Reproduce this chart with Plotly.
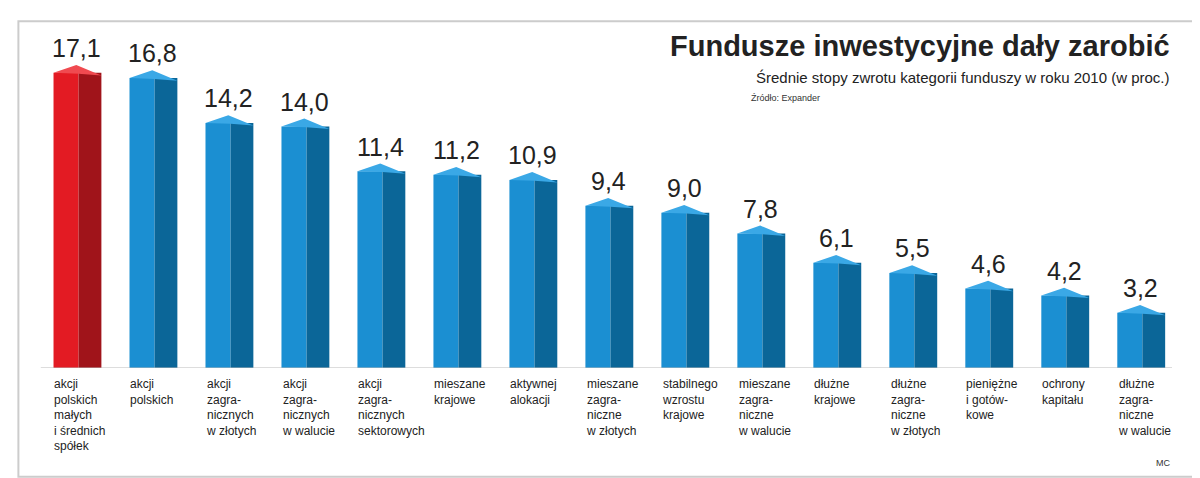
import plotly.graph_objects as go

# data
labels = ['akcji<br>polskich<br>małych<br>i średnich<br>spółek', 'akcji<br>polskich',
          'akcji<br>zagra-<br>nicznych<br>w złotych', 'akcji<br>zagra-<br>nicznych<br>w walucie',
          'akcji<br>zagra-<br>nicznych<br>sektorowych', 'mieszane<br>krajowe', 'aktywnej<br>alokacji',
          'mieszane<br>zagra-<br>niczne<br>w złotych', 'stabilnego<br>wzrostu<br>krajowe',
          'mieszane<br>zagra-<br>niczne<br>w walucie', 'dłużne<br>krajowe',
          'dłużne<br>zagra-<br>niczne<br>w złotych', 'pieniężne<br>i gotów-<br>kowe',
          'ochrony<br>kapitału', 'dłużne<br>zagra-<br>niczne<br>w walucie']
values = [17.1, 16.8, 14.2, 14.0, 11.4, 11.2, 10.9, 9.4, 9.0, 7.8, 6.1, 5.5, 4.6, 4.2, 3.2]
value_text = ['17,1', '16,8', '14,2', '14,0', '11,4', '11,2', '10,9', '9,4', '9,0', '7,8', '6,1', '5,5', '4,6', '4,2', '3,2']

xs = list(range(len(values)))
front = ['#e31b23' if i == 0 else '#1b8fd2' for i in xs]
side = ['#a0141a' if i == 0 else '#0b6698' for i in xs]
capc = ['#f04a50' if i == 0 else '#3aa8e6' for i in xs]

fig = go.Figure()
fig.add_trace(go.Bar(x=xs, y=values, width=0.33, offset=0, marker_color=front, marker_line_width=0))
fig.add_trace(go.Bar(x=xs, y=values, width=0.3, offset=0.33, marker_color=side, marker_line_width=0))
for i, v in enumerate(values):
    fig.add_trace(go.Scatter(x=[i, i + 0.33, i + 0.63, i + 0.3, i],
                             y=[v, v - 0.05, v - 0.15, v + 0.45, v],
                             fill='toself', fillcolor=capc[i], line_width=0, mode='lines',
                             hoverinfo='skip'))
    fig.add_annotation(x=i + 0.3, y=v + 0.5, text=value_text[i], showarrow=False, yanchor='bottom',
                       font=dict(size=25, color='#222', family='Liberation Sans Narrow, Arial Narrow, sans-serif'))
    fig.add_annotation(x=i - 0.02, yref='paper', y=-0.02, text=labels[i], showarrow=False,
                       xanchor='left', yanchor='top', align='left',
                       font=dict(size=12, color='#222'))

fig.add_shape(type='line', xref='paper', x0=-0.01, x1=1.0, y0=0, y1=0, line=dict(color='#bbb', width=1))
fig.add_shape(type='rect', xref='paper', yref='paper', x0=-0.03, x1=1.03, y0=-0.32, y1=1.02,
              line=dict(color='#ccc', width=2), layer='below')

fig.add_annotation(xref='paper', yref='paper', x=1.0, y=1.0, xanchor='right', yanchor='top', showarrow=False,
                   text='<b>Fundusze inwestycyjne dały zarobić</b>',
                   font=dict(size=29, color='#222', family='Liberation Sans Narrow, Arial Narrow, sans-serif'))
fig.add_annotation(xref='paper', yref='paper', x=1.0, y=0.885, xanchor='right', yanchor='top', showarrow=False,
                   text='Średnie stopy zwrotu kategorii funduszy w roku 2010 (w proc.)',
                   font=dict(size=15, color='#222'))
fig.add_annotation(xref='paper', yref='paper', x=0.622, y=0.815, xanchor='left', yanchor='top', showarrow=False,
                   text='Źródło: Expander', font=dict(size=9, color='#333'))
fig.add_annotation(xref='paper', yref='paper', x=1.0, y=-0.3, xanchor='right', yanchor='bottom', showarrow=False,
                   text='MC', font=dict(size=9, color='#333'))

fig.update_layout(width=1200, height=478, margin=dict(l=44, r=36, t=20, b=118),
                  plot_bgcolor='white', paper_bgcolor='white', showlegend=False, barmode='overlay',
                  xaxis=dict(range=[-0.02, 14.72], visible=False),
                  yaxis=dict(range=[0, 19.7], visible=False),
                  font=dict(family='Liberation Sans, Arial, sans-serif'))
fig.write_html("out.html")
